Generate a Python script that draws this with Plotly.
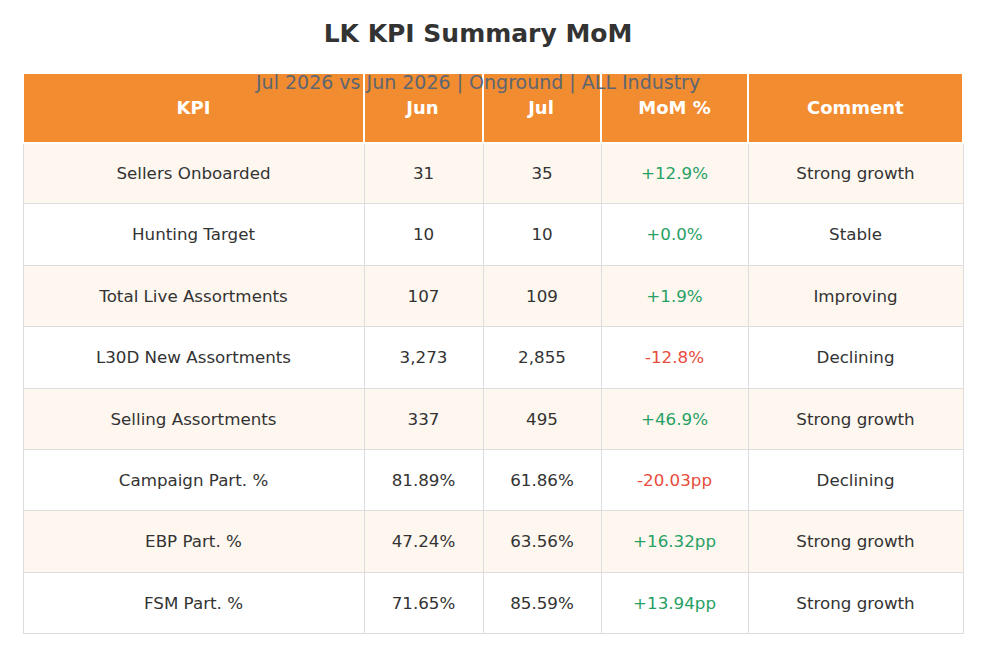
import plotly.graph_objects as go

kpis = ["Sellers Onboarded", "Hunting Target", "Total Live Assortments", "L30D New Assortments",
        "Selling Assortments", "Campaign Part. %", "EBP Part. %", "FSM Part. %"]
jun = ["31", "10", "107", "3,273", "337", "81.89%", "47.24%", "71.65%"]
jul = ["35", "10", "109", "2,855", "495", "61.86%", "63.56%", "85.59%"]
mom = ["+12.9%", "+0.0%", "+1.9%", "-12.8%", "+46.9%", "-20.03pp", "+16.32pp", "+13.94pp"]
comments = ["Strong growth", "Stable", "Improving", "Declining", "Strong growth",
            "Declining", "Strong growth", "Strong growth"]
headers = ["KPI", "Jun", "Jul", "MoM %", "Comment"]

GREEN = "#27a064"
RED = "#e74c3c"
TXT = "#333333"
mom_colors = [RED if v.startswith("-") else GREEN for v in mom]
row_fill = ["#fef7f0" if i % 2 == 0 else "#ffffff" for i in range(len(kpis))]
n = len(kpis)
col_w = [341, 119, 118, 147, 215]

HEAD_H = 69.5
ROW_H = 61.4

# geometry (px) of plot area
H_AREA = 656 - 65 - 0
TABLE_H = HEAD_H + ROW_H * n + 1
SHIFT = 16  # text layer sits lower so labels appear vertically centred
y0 = 1 - TABLE_H / H_AREA

# background layer: fills and grid lines
bg = go.Table(
    domain=dict(x=[0, 1], y=[y0, 1]),
    columnwidth=col_w,
    header=dict(
        values=[""] * 5,
        fill_color="#f28c30",
        line_color="#ffffff",
        line_width=2,
        height=HEAD_H,
    ),
    cells=dict(
        values=[[""] * n] * 5,
        fill_color=[row_fill] * 5,
        line_color="#dddddd",
        height=ROW_H,
    ),
)

# text layer
fg = go.Table(
    domain=dict(x=[0, 1], y=[y0 - SHIFT / H_AREA, 1 - SHIFT / H_AREA]),
    columnwidth=col_w,
    header=dict(
        values=[f"<b>{h}</b>" for h in headers],
        fill_color="rgba(0,0,0,0)",
        line_color="rgba(0,0,0,0)",
        font=dict(color="white", size=18, family="DejaVu Sans"),
        align="center",
        height=HEAD_H,
    ),
    cells=dict(
        values=[kpis, jun, jul, mom, comments],
        fill_color="rgba(0,0,0,0)",
        line_color="rgba(0,0,0,0)",
        font=dict(color=[[TXT] * n, [TXT] * n, [TXT] * n, mom_colors, [TXT] * n],
                  size=16.7, family="DejaVu Sans"),
        align="center",
        height=ROW_H,
    ),
)

fig = go.Figure([bg, fg])

fig.update_layout(
    title=dict(
        text="<b>LK KPI Summary MoM</b>",
        xref="container", x=0.4767, xanchor="center",
        yref="container", y=0.962, yanchor="middle",
        font=dict(size=25, color="#333333", family="DejaVu Sans"),
    ),
    annotations=[dict(
        text="Jul 2026 vs Jun 2026 | Onground | ALL Industry",
        xref="paper", yref="paper", x=0.484, y=1 - 9 / H_AREA,
        xanchor="center", yanchor="middle", showarrow=False,
        font=dict(size=19, color="#5d6673", family="DejaVu Sans"),
    )],
    font=dict(family="DejaVu Sans"),
    margin=dict(l=15, r=31, t=65, b=0),
    paper_bgcolor="white",
    width=986, height=656,
)

fig.write_html("out.html")
